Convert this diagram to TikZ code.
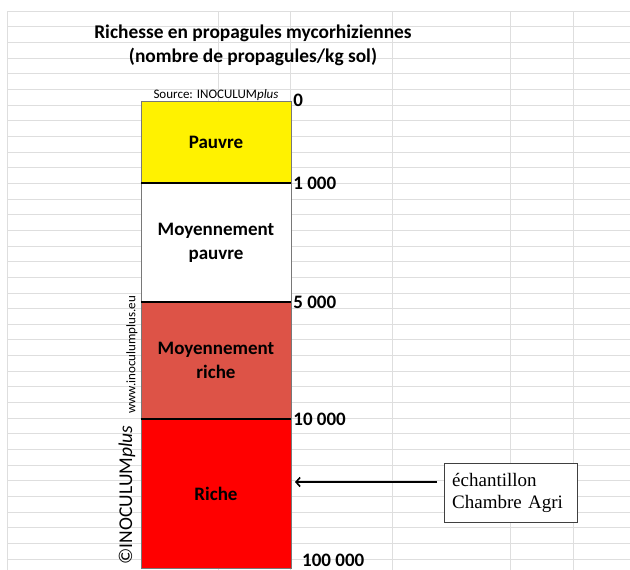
\documentclass[tikz,border=0pt]{standalone}
\usepackage{fontspec}
\setmainfont{Carlito}
\newfontfamily\serifbox{Liberation Serif}
\usetikzlibrary{arrows.meta}

\definecolor{sheetgrid}{RGB}{222,222,222}
\definecolor{edgegray}{RGB}{120,120,120}
\definecolor{salmon}{RGB}{221,83,71}

\tikzset{
  zone/.style={draw=edgegray,minimum width=150,inner sep=0pt,align=center,
    font=\bfseries\fontsize{19}{24}\selectfont},
  sep/.style={line width=1.5pt},
  tick/.style={anchor=west,inner sep=2pt,font=\bfseries\fontsize{19}{22}\selectfont},
  pointer/.style={line width=1.6pt,-{Straight Barb[length=4pt,width=9pt]}}
}

\begin{document}
\begin{tikzpicture}[x=1pt,y=-1pt]
    \useasboundingbox (0,0) rectangle (630,570);
    % spreadsheet grid
    \foreach \r in {0,...,35}
        \draw[sheetgrid] (7,11+15.65*\r) -- (630,11+15.65*\r);
    \foreach \c in {7,218,290,392,510,573}
        \draw[sheetgrid] (\c,11) -- (\c,570);

    \node[align=center,font=\bfseries\fontsize{19.4}{24}\selectfont] (title) at (253,45)
        {Richesse en propagules mycorhiziennes\\(nombre de propagules/kg sol)};
    \node[font=\fontsize{13}{15}\selectfont,inner sep=1pt] (source) at (216,95)
        {Source: INOCULUM\textit{plus}};

    % the scale
    \node[zone,fill=yellow,minimum height=82] (pauvre) at (216,142) {Pauvre};
    \node[zone,fill=white,minimum height=119] (moypauvre) at (216,242.5) {Moyennement\\pauvre};
    \node[zone,fill=salmon,minimum height=117] (moyriche) at (216,360.5) {Moyennement\\riche};
    \node[zone,fill=red,minimum height=149] (riche) at (216,493.5) {Riche};
    \draw[sep] (pauvre.south west) -- (pauvre.south east);
    \draw[sep] (moypauvre.south west) -- (moypauvre.south east);
    \draw[sep] (moyriche.south west) -- (moyriche.south east);

    \node[tick] at (pauvre.north east) {0};
    \node[tick] at (pauvre.south east) {1 000};
    \node[tick] at (moypauvre.south east) {5 000};
    \node[tick] at (moyriche.south east) {10 000};
    \node[tick,inner sep=0.5pt] at (301.5,560) {100 000};

    \node[rotate=90,font=\fontsize{13}{15}\selectfont] (site) at (132,355) {www.inoculumplus.eu};
    \node[rotate=90,font=\fontsize{19.5}{22}\selectfont] (copy) at (127,495) {©INOCULUM\textit{plus}};

    % sample
    \node[draw=black!75,fill=white,anchor=north west,align=left,text width=117pt,
        inner xsep=8pt,minimum height=59,font=\serifbox\fontsize{19}{22}\selectfont]
        (sample) at (444,463) {échantillon\\Chambre Agri};
    \coordinate (tail) at (437,482);
    \coordinate (tip) at (295,482);
    \draw[pointer] (tail) -- (tip);
\end{tikzpicture}
\end{document}
